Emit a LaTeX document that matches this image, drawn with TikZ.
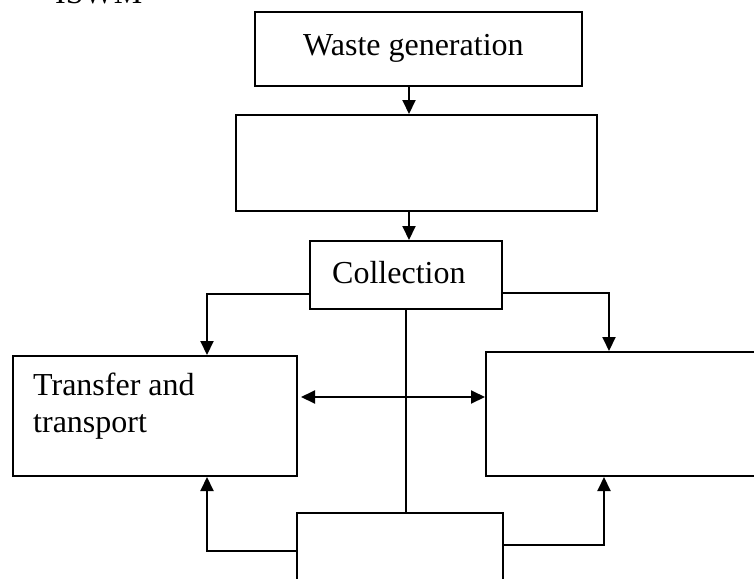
\documentclass[tikz,border=0pt]{standalone}
\usepackage{fontspec}
\setmainfont{Liberation Serif}
\usetikzlibrary{arrows.meta}
\begin{document}
\begin{tikzpicture}[x=1pt,y=-1pt,
  box/.style={draw,line width=2pt,inner sep=0pt,rectangle},
  lbl/.style={font=\fontsize{32}{37}\selectfont,inner sep=0pt},
  conn/.style={line width=2pt},
  arr/.style={conn,-{Triangle[length=14pt,width=13pt]}},
  darr/.style={conn,{Triangle[length=14pt,width=13pt]}-{Triangle[length=14pt,width=13pt]}}
]
\useasboundingbox (0,0) rectangle (754,578);
\clip (0,0) rectangle (754,578);
\fill[white] (0,0) rectangle (754,578);

% heading, cut off at the top
\node[lbl,anchor=base west] (iswm) at (55,4) {ISWM};

% boxes
\node[box,minimum width=327pt,minimum height=74pt] (waste) at (418.5,49) {};
\node[box,minimum width=361pt,minimum height=96pt] (box2) at (416.5,163) {};
\node[box,minimum width=192pt,minimum height=68pt] (col) at (406,275) {};
\node[box,minimum width=284pt,minimum height=120pt] (tr) at (155,416) {};
\node[box,minimum width=334pt,minimum height=124pt] (rbox) at (653,414) {};
\node[box,minimum width=206pt,minimum height=127pt] (bot) at (400,576.5) {};

% texts
\node[lbl,anchor=base west] (wastetext) at (303,56) {Waste generation};
\node[lbl,anchor=base west] (coltext) at (332,283) {Collection};
\node[lbl,anchor=north west,align=left] (trtext) at (33,373) {Transfer and\\transport};

% connector positions
\coordinate (sx) at (409,0);
\coordinate (cl) at (207,294);
\coordinate (cr) at (609,293);
\coordinate (dy) at (0,397);
\coordinate (bl) at (207,551);
\coordinate (br) at (604,545);

% connectors
\draw[arr] (waste.south -| sx) -- (box2.north -| sx);
\draw[arr] (box2.south -| sx) -- (col.north -| sx);
\draw[arr] (col.west |- cl) -| (tr.north -| cl);
\draw[arr] (col.east |- cr) -| (rbox.north -| cr);
\draw[darr,shorten <=3pt] (tr.east |- dy) -- (rbox.west |- dy);
\draw[conn] (col.south) -- (col.south |- bot.north);
\draw[arr] (bot.west |- bl) -| (tr.south -| bl);
\draw[arr] (bot.east |- br) -| (rbox.south -| br);
\end{tikzpicture}
\end{document}
